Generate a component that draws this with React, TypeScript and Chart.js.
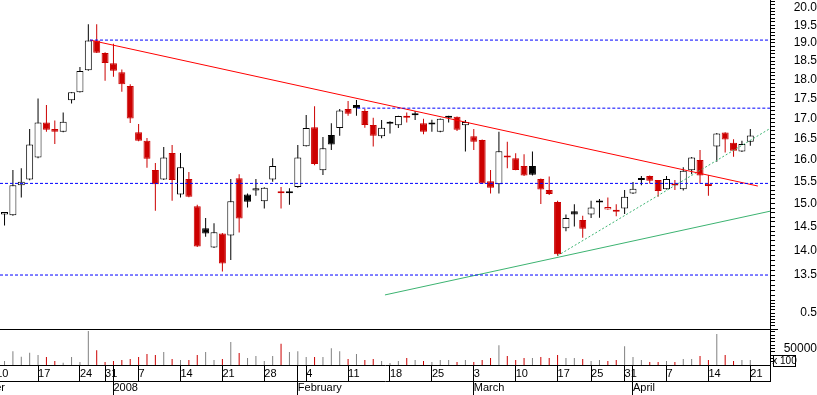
import React, { useEffect, useRef } from 'react';
import { Chart, registerables } from 'chart.js';

Chart.register(...registerables);

// ---- trading days (categories) ----
const dates = [
  '2007-12-11','2007-12-12','2007-12-13','2007-12-14','2007-12-17','2007-12-18','2007-12-19','2007-12-20','2007-12-21','2007-12-24',
  '2007-12-27','2007-12-28','2007-12-31','2008-01-02','2008-01-03','2008-01-04','2008-01-07','2008-01-08','2008-01-09','2008-01-10',
  '2008-01-11','2008-01-14','2008-01-15','2008-01-16','2008-01-17','2008-01-18','2008-01-21','2008-01-22','2008-01-23','2008-01-24',
  '2008-01-25','2008-01-28','2008-01-29','2008-01-30','2008-01-31','2008-02-01','2008-02-04','2008-02-05','2008-02-06','2008-02-07',
  '2008-02-08','2008-02-11','2008-02-12','2008-02-13','2008-02-14','2008-02-15','2008-02-18','2008-02-19','2008-02-20','2008-02-21',
  '2008-02-22','2008-02-25','2008-02-26','2008-02-27','2008-02-28','2008-02-29','2008-03-03','2008-03-04','2008-03-05','2008-03-06',
  '2008-03-07','2008-03-10','2008-03-11','2008-03-12','2008-03-13','2008-03-14','2008-03-17','2008-03-18','2008-03-19','2008-03-20',
  '2008-03-25','2008-03-26','2008-03-27','2008-03-28','2008-03-31','2008-04-01','2008-04-02','2008-04-03','2008-04-04','2008-04-07',
  '2008-04-08','2008-04-09','2008-04-10','2008-04-11','2008-04-14','2008-04-15','2008-04-16','2008-04-17','2008-04-18','2008-04-21',
];

// ---- OHLC ----
const open = [
  14.76,14.74,15.41,15.54,16.05,16.90,16.74,16.67,17.46,17.67,
  18.25,19.07,18.72,18.44,18.20,17.83,16.66,16.45,15.76,15.54,
  16.16,15.20,15.55,14.94,14.46,14.06,14.35,14.31,15.57,15.20,
  15.29,15.05,15.54,15.24,15.23,15.37,16.32,16.78,15.75,16.59,
  16.76,17.24,17.34,17.19,16.84,16.56,16.87,16.83,17.07,17.08,
  16.88,16.90,16.67,17.02,17.04,16.83,16.56,16.47,15.50,15.43,
  16.06,16.03,15.85,15.85,15.55,15.30,15.03,14.46,14.83,14.64,
  14.76,15.02,14.87,14.86,14.89,15.22,15.53,15.62,15.53,15.32,
  15.45,15.32,15.75,15.99,15.44,16.31,16.65,16.40,16.19,16.43,
];
const high = [
  14.81,15.76,15.80,16.74,17.51,17.34,16.95,17.15,17.67,18.34,
  19.53,19.53,18.74,18.98,18.27,17.88,16.86,16.52,15.92,16.30,
  16.35,16.16,15.71,14.97,14.68,14.57,14.36,15.55,15.66,15.22,
  15.55,15.36,16.03,15.37,15.34,16.35,17.09,17.31,16.54,16.88,
  17.24,17.44,17.47,17.24,17.02,16.96,16.93,17.07,17.15,17.19,
  16.99,16.97,17.00,17.07,17.05,16.96,16.74,16.48,15.76,16.67,
  16.43,16.15,16.13,16.19,15.56,15.61,15.06,14.76,14.98,14.73,
  15.06,15.10,15.13,14.98,15.30,15.48,15.62,15.63,15.53,15.62,
  15.53,15.82,16.06,16.23,15.64,16.64,16.66,16.49,16.45,16.74,
];
const low = [
  14.52,14.73,15.13,15.52,16.03,16.67,16.37,16.66,17.38,17.66,
  18.24,18.72,17.97,18.08,17.68,16.89,16.44,15.81,14.84,15.53,
  15.06,15.13,15.14,14.07,14.28,14.05,13.57,13.80,14.37,14.91,
  15.17,14.89,15.49,14.89,14.97,15.35,16.31,15.87,15.64,16.23,
  16.57,17.07,17.07,16.77,16.31,16.51,16.63,16.76,16.90,16.96,
  16.61,16.67,16.66,16.90,16.69,16.19,16.23,15.44,15.22,15.22,
  15.80,15.75,15.62,15.63,14.99,15.19,13.89,14.40,14.50,14.26,
  14.68,14.69,14.86,14.72,14.77,15.21,15.41,15.45,15.15,15.31,
  15.30,15.29,15.66,15.45,15.17,15.95,16.17,16.07,16.18,16.33,
];
const close = [
  14.81,15.41,15.49,16.36,16.90,16.72,16.67,16.92,17.67,18.23,
  19.07,18.73,18.45,18.24,17.88,17.00,16.45,16.02,15.43,16.05,
  15.53,15.82,15.15,14.08,14.35,14.38,13.73,15.05,14.67,15.04,
  15.34,15.35,15.85,15.23,15.24,16.05,16.76,15.90,16.27,16.36,
  17.20,17.12,17.26,16.84,16.57,16.77,16.88,17.06,17.02,17.09,
  16.67,16.85,16.99,17.03,16.72,16.91,16.43,15.45,15.35,16.20,
  16.05,15.76,15.63,15.65,15.31,15.21,13.92,14.68,14.76,14.45,
  14.91,15.03,14.92,14.82,15.15,15.33,15.54,15.51,15.28,15.55,
  15.40,15.74,16.05,15.63,15.39,16.63,16.48,16.21,16.37,16.58,
];
// volume, in units of 100
const volume = [
  12000,42000,25000,37000,30000,24000,12000,7000,24000,9000,
  103000,45000,9000,12000,15000,18000,24000,33000,30000,39000,
  18000,15000,15000,30000,39000,15000,18000,70000,36000,21000,
  27000,12000,27000,64000,39000,42000,24000,24000,24000,51000,
  42000,18000,33000,15000,18000,12000,6000,12000,21000,15000,
  12000,9000,15000,15000,9000,15000,9000,15000,21000,60000,
  27000,15000,21000,21000,24000,21000,30000,21000,21000,18000,
  12000,15000,12000,15000,57000,24000,15000,9000,9000,12000,
  9000,18000,18000,27000,15000,94000,30000,12000,15000,15000,
];

// ---- axis ticks ----
const weekTickPos = [-1, 4, 9, 12, 16, 21, 26, 31, 36, 41, 46, 51, 56, 61, 66, 70, 74, 79, 84, 89];
const weekTickLabels = ['10','17','24','31','7','14','21','28','4','11','18','25','3','10','17','25','31','7','14','21'];
const monthTickPos = [-6, 13, 35, 56, 75];
const monthTickLabels = ['December', '2008', 'February', 'March', 'April'];
const volumeLabelValue = 50000;

// ---- drawn studies (index, price) ----
const levelPrices = [19.08, 17.26, 15.45, 13.5];
const levelStarts = [10.2, 42.1, -0.54, -0.54];
const resistanceLine = [{ x: 10.2, y: 19.08 }, { x: 89.9, y: 15.39 }];
const supportLong = [{ x: 45.4, y: 13.11 }, { x: 91.35, y: 14.83 }];
const supportShort = [{ x: 66, y: 13.89 }, { x: 91.35, y: 16.75 }];

const X_MIN = -0.54;
const X_MAX = 91.35;
const P_MIN = 13.07;
const P_MAX = 20.24;
const V_MAX = 109000;

const RED = '#cc0000';
const BLACK = '#000000';
const WHITE = '#ffffff';
const GRAY = '#808080';
const FONT = "'Liberation Sans', Arial, sans-serif";

const isDown = (i: number) => i > 0 && close[i] < close[i - 1];
const isFilled = (i: number) => close[i] < open[i];

const decorPlugin = {
  id: 'decor',
  afterDraw(chart: any) {
    const ctx = chart.ctx;
    const area = chart.chartArea;
    const yV = chart.scales.yV;
    ctx.save();
    ctx.strokeStyle = '#000';
    ctx.lineWidth = 1;
    const y = Math.round(yV.top) + 0.5;
    ctx.beginPath();
    ctx.moveTo(area.left, y);
    ctx.lineTo(area.right + 8, y);
    ctx.stroke();
    const bx = Math.round(area.right) + 3;
    const by = Math.round(yV.bottom) - 10;
    ctx.fillStyle = '#fff';
    ctx.fillRect(bx, by, 22, 11);
    ctx.strokeRect(bx + 0.5, by + 0.5, 22, 11);
    ctx.fillStyle = '#000';
    ctx.font = `10px ${FONT}`;
    ctx.textAlign = 'center';
    ctx.textBaseline = 'middle';
    ctx.fillText('x 100', bx + 11.5, by + 6.5);
    ctx.restore();
  },
};

export default function App() {
  const ref = useRef<HTMLCanvasElement>(null);

  useEffect(() => {
    document.body.style.margin = '0';
    Chart.defaults.font.family = FONT;
    Chart.defaults.color = '#000';

    const priceTicks: number[] = [];
    for (let k = 131; k <= 202; k++) priceTicks.push(k / 10);
    const indTicks: number[] = [];
    for (let k = 1; k <= 9; k++) indTicks.push(k / 10);
    const volTicks: number[] = [];
    for (let k = 1; k <= 10; k++) volTicks.push(k * 10000);

    const xTicks = Array.from(new Set([...weekTickPos, ...monthTickPos.filter((p) => p >= 0), X_MAX])).sort((a, b) => a - b);

    const levelDatasets = levelPrices.map((p, k) => ({
      type: 'line' as const,
      data: [{ x: levelStarts[k], y: p }, { x: X_MAX, y: p }],
      xAxisID: 'x',
      yAxisID: 'yP',
      borderColor: '#0000ff',
      borderWidth: 1,
      borderDash: [3, 2],
      pointRadius: 0,
      order: -1,
    }));

    const yAfterFit = (s: any) => {
      s.width = 47;
      s.paddingTop = 0; s.paddingBottom = 0; s.paddingLeft = 0; s.paddingRight = 0;
    };

    const chart = new Chart(ref.current as HTMLCanvasElement, {
      type: 'bar',
      data: {
        datasets: [
          {
            type: 'bar',
            label: 'range',
            data: dates.map((_, i) => ({ x: i, y: [low[i], high[i]] })) as any,
            xAxisID: 'x',
            yAxisID: 'yP',
            barThickness: 1,
            grouped: false,
            inflateAmount: 0,
            borderWidth: 0,
            backgroundColor: (c: any) => (isDown(c.dataIndex) ? RED : BLACK),
            order: 3,
          },
          {
            type: 'bar',
            label: 'body',
            data: dates.map((_, i) => ({ x: i, y: [open[i], close[i]] })) as any,
            xAxisID: 'x',
            yAxisID: 'yP',
            barThickness: 7,
            grouped: false,
            inflateAmount: 0,
            borderWidth: 1,
            borderSkipped: false,
            minBarLength: 2,
            backgroundColor: (c: any) => {
              const i = c.dataIndex;
              if (!isFilled(i)) return WHITE;
              return isDown(i) ? RED : BLACK;
            },
            borderColor: (c: any) => (isDown(c.dataIndex) ? RED : BLACK),
            order: 2,
          },
          {
            type: 'bar',
            label: 'volume',
            data: volume.map((v, i) => ({ x: i, y: v })) as any,
            xAxisID: 'x',
            yAxisID: 'yV',
            barThickness: 1,
            grouped: false,
            inflateAmount: 0,
            borderWidth: 0,
            backgroundColor: (c: any) => (isDown(c.dataIndex) ? RED : GRAY),
            order: 2,
          },
          ...levelDatasets,
          {
            type: 'line',
            data: resistanceLine,
            xAxisID: 'x',
            yAxisID: 'yP',
            borderColor: '#ff0000',
            borderWidth: 1,
            pointRadius: 0,
            order: -1,
          },
          {
            type: 'line',
            data: supportLong,
            xAxisID: 'x',
            yAxisID: 'yP',
            borderColor: '#3cb371',
            borderWidth: 1,
            pointRadius: 0,
            order: -1,
          },
          {
            type: 'line',
            data: supportShort,
            xAxisID: 'x',
            yAxisID: 'yP',
            borderColor: '#3cb371',
            borderWidth: 1,
            borderDash: [2, 2],
            pointRadius: 0,
            order: -1,
          },
        ] as any,
      },
      options: {
        responsive: false,
        maintainAspectRatio: false,
        animation: false,
        devicePixelRatio: 1,
        layout: { padding: 0 },
        plugins: { legend: { display: false }, tooltip: { enabled: false } },
        scales: {
          x: {
            type: 'linear',
            position: 'bottom',
            min: X_MIN,
            max: X_MAX,
            offset: false,
            grid: { offset: false, drawOnChartArea: false, drawTicks: true, tickLength: 16, color: '#000' },
            border: { display: true, color: '#000' },
            ticks: {
              autoSkip: false,
              maxRotation: 0,
              minRotation: 0,
              align: 'start',
              labelOffset: 0,
              padding: -14,
              color: '#000',
              font: { size: 11 },
              callback: (v: any) => {
                const k = weekTickPos.indexOf(v);
                return k >= 0 ? weekTickLabels[k] : '';
              },
            },
            afterBuildTicks: (s: any) => { s.ticks = xTicks.map((v) => ({ value: v })); },
            afterFit: (s: any) => { s.height = 16; s.paddingLeft = 0; s.paddingRight = 0; s.paddingTop = 0; s.paddingBottom = 0; },
          },
          x2: {
            type: 'linear',
            position: 'bottom',
            min: X_MIN,
            max: X_MAX,
            offset: false,
            grid: { offset: false, drawOnChartArea: false, drawTicks: true, tickLength: 14, color: '#000' },
            border: { display: true, color: '#000' },
            ticks: {
              autoSkip: false,
              maxRotation: 0,
              minRotation: 0,
              align: 'start',
              labelOffset: 0,
              padding: -14,
              color: '#000',
              font: { size: 11 },
              callback: (v: any) => {
                const k = monthTickPos.indexOf(v);
                return k >= 0 ? monthTickLabels[k] : '';
              },
            },
            afterBuildTicks: (s: any) => { s.ticks = monthTickPos.map((v) => ({ value: v })); },
            afterFit: (s: any) => { s.height = 14; s.paddingLeft = 0; s.paddingRight = 0; s.paddingTop = 0; s.paddingBottom = 0; },
          },
          yP: {
            type: 'logarithmic',
            position: 'right',
            stack: 'panels',
            stackWeight: 297,
            min: P_MIN,
            max: P_MAX,
            grid: { drawOnChartArea: false, drawTicks: true, tickLength: 5, color: '#000' },
            border: { display: true, color: '#000' },
            ticks: {
              autoSkip: false,
              crossAlign: 'far',
              padding: 16,
              color: '#000',
              font: { size: 12 },
              callback: (v: any) => {
                const k = Math.round(Number(v) * 10);
                return k % 5 === 0 ? (k / 10).toFixed(1) : '';
              },
            },
            afterBuildTicks: (s: any) => { s.ticks = priceTicks.map((v) => ({ value: v })); },
            afterFit: yAfterFit,
          },
          yI: {
            type: 'linear',
            position: 'right',
            stack: 'panels',
            stackWeight: 32,
            min: 0,
            max: 1,
            grid: { drawOnChartArea: false, drawTicks: true, tickLength: 5, color: '#000' },
            border: { display: true, color: '#000' },
            ticks: {
              autoSkip: false,
              crossAlign: 'far',
              padding: 22,
              color: '#000',
              font: { size: 12 },
              callback: (v: any) => (Math.round(Number(v) * 10) === 5 ? '0.5' : ''),
            },
            afterBuildTicks: (s: any) => { s.ticks = indTicks.map((v) => ({ value: v })); },
            afterFit: yAfterFit,
          },
          yV: {
            type: 'linear',
            position: 'right',
            stack: 'panels',
            stackWeight: 36,
            min: 0,
            max: V_MAX,
            grid: { drawOnChartArea: false, drawTicks: true, tickLength: 5, color: '#000' },
            border: { display: true, color: '#000' },
            ticks: {
              autoSkip: false,
              crossAlign: 'far',
              padding: 6,
              color: '#000',
              font: { size: 12 },
              callback: (v: any) => (Number(v) === volumeLabelValue ? String(volumeLabelValue) : ''),
            },
            afterBuildTicks: (s: any) => { s.ticks = volTicks.map((v) => ({ value: v })); },
            afterFit: yAfterFit,
          },
        } as any,
      },
      plugins: [decorPlugin],
    });

    return () => chart.destroy();
  }, []);

  return (
    <div style={{ width: 817, height: 395 }}>
      <canvas ref={ref} width={817} height={395} style={{ display: 'block' }} />
    </div>
  );
}
